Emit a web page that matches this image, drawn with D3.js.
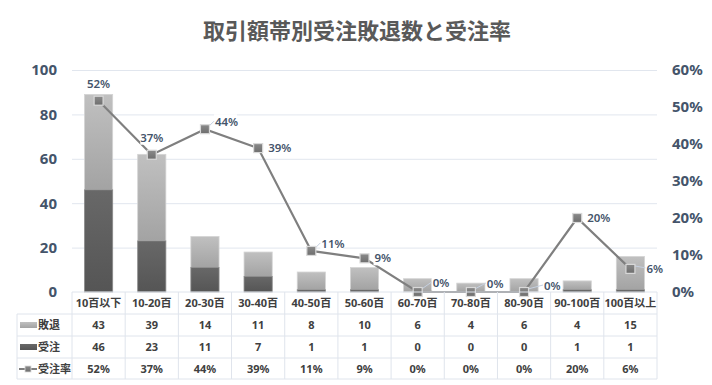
<!DOCTYPE html>
<html>
<head>
<meta charset="utf-8">
<script src="https://cdn.jsdelivr.net/npm/d3@7"></script>
<style>
  body { margin: 0; background: #fff; }
  text { font-family: "Noto Sans", "Noto Sans CJK JP", sans-serif; }
</style>
</head>
<body>
<div id="chart"></div>
<script>
// data
var categories = ["10百以下", "10-20百", "20-30百", "30-40百", "40-50百", "50-60百", "60-70百", "70-80百", "80-90百", "90-100百", "100百以上"];
var lost = [43, 39, 14, 11, 8, 10, 6, 4, 6, 4, 15];      // 敗退
var won = [46, 23, 11, 7, 1, 1, 0, 0, 0, 1, 1];          // 受注
var winRate = [0.517, 0.371, 0.44, 0.389, 0.111, 0.091, 0, 0, 0, 0.2, 0.0625]; // 受注率
var leftTicks = [0, 20, 40, 60, 80, 100];
var rightTicks = [0, 0.1, 0.2, 0.3, 0.4, 0.5, 0.6];

var svgWidth = 712;
var svgHeight = 385;

var plot = { left: 72, right: 657, top: 70, bottom: 292 };
var rowH = 22;
var legendLeft = 17;

var svg = d3.select("#chart")
  .append("svg")
  .attr("width", svgWidth)
  .attr("height", svgHeight);

var defs = svg.append("defs");
function vGrad(id, top, bottom) {
  var g = defs.append("linearGradient").attr("id", id)
    .attr("x1", 0).attr("y1", 0).attr("x2", 0).attr("y2", 1);
  g.append("stop").attr("offset", "0%").attr("stop-color", top);
  g.append("stop").attr("offset", "100%").attr("stop-color", bottom);
}
vGrad("gLost", "#c0c0c0", "#a3a3a3");
vGrad("gWon", "#686868", "#555555");
vGrad("gMark", "#8a8a8a", "#6e6e6e");

var x = d3.scaleBand()
  .domain(categories)
  .range([plot.left, plot.right])
  .paddingInner(0.47)
  .paddingOuter(0.235);
var step = x.step();

var y = d3.scaleLinear().domain([0, 100]).range([plot.bottom, plot.top]);
var y2 = d3.scaleLinear().domain([0, 0.6]).range([plot.bottom, plot.top]);

// title
svg.append("text")
  .attr("x", 357)
  .attr("y", 39)
  .attr("text-anchor", "middle")
  .attr("font-size", "22px")
  .attr("font-weight", "bold")
  .attr("fill", "#595959")
  .text("取引額帯別受注敗退数と受注率");

// gridlines
svg.append("g")
  .attr("transform", `translate(${plot.left},0)`)
  .call(d3.axisLeft(y).tickValues(leftTicks.slice(1)).tickSize(-(plot.right - plot.left)).tickFormat(""))
  .call(g => g.select(".domain").remove())
  .call(g => g.selectAll("line").attr("stroke", "#e1e6ee").attr("stroke-width", 1));

// left axis
svg.append("g")
  .attr("transform", "translate(57,0)")
  .call(d3.axisLeft(y).tickValues(leftTicks).tickSize(0).tickPadding(0))
  .call(g => g.select(".domain").remove())
  .call(g => g.selectAll("text")
    .attr("font-size", "15px")
    .attr("font-weight", "bold")
    .attr("fill", "#44546a")
    .style("font-family", "'Noto Sans', sans-serif"));

// right axis
svg.append("g")
  .attr("transform", "translate(672,0)")
  .call(d3.axisRight(y2).tickValues(rightTicks).tickSize(0).tickPadding(0).tickFormat(d3.format(".0%")))
  .call(g => g.select(".domain").remove())
  .call(g => g.selectAll("text")
    .attr("font-size", "15px")
    .attr("font-weight", "bold")
    .attr("fill", "#44546a")
    .style("font-family", "'Noto Sans', sans-serif"));

// stacked bars
var barGroup = svg.append("g");
categories.forEach(function(c, i) {
  barGroup.append("rect")
    .attr("x", x(c))
    .attr("y", y(won[i] + lost[i]))
    .attr("width", x.bandwidth())
    .attr("height", y(won[i]) - y(won[i] + lost[i]))
    .attr("fill", "url(#gLost)")
    .attr("stroke", "#d4d4d4")
    .attr("stroke-width", 0.8);
  if (won[i] > 0) {
    barGroup.append("rect")
      .attr("x", x(c))
      .attr("y", y(won[i]))
      .attr("width", x.bandwidth())
      .attr("height", y(0) - y(won[i]))
      .attr("fill", "url(#gWon)")
      .attr("stroke", "#8a8a8a")
      .attr("stroke-width", 0.8);
  }
});

// rate line
var cx = (c) => x(c) + x.bandwidth() / 2;
var line = d3.line()
  .x((d, i) => cx(categories[i]))
  .y(d => y2(d));

svg.append("path")
  .datum(winRate)
  .attr("d", line)
  .attr("fill", "none")
  .attr("stroke", "#7f7f7f")
  .attr("stroke-width", 2.2);

// data labels (first two above, rest to the right, some lifted with a leader)
var lift = { 2: 7, 4: 7, 6: 9, 7: 8, 8: 6 };
var gap = { 6: 15, 7: 16, 8: 20, 10: 16 };
var labels = svg.append("g");
winRate.forEach(function(r, i) {
  var px = cx(categories[i]);
  var py = y2(r);
  var txt = Math.round(r * 100) + "%";
  var lx, ly, anchor;
  if (i < 2) {
    lx = px; ly = py - 17; anchor = "middle";
  } else {
    lx = px + (gap[i] || 10); ly = py - (lift[i] || 0); anchor = "start";
  }
  var w = txt.length * 7 + 2;
  var bx = anchor === "middle" ? lx - w / 2 : lx - 1;
  labels.append("rect")
    .attr("x", bx).attr("y", ly - 8)
    .attr("width", w).attr("height", 15)
    .attr("fill", "#fff");
  if (lift[i] > 0 || gap[i]) {
    labels.append("line")
      .attr("x1", px + 4).attr("y1", py - 3)
      .attr("x2", lx - 1).attr("y2", ly - 1)
      .attr("stroke", "#c5d0e0")
      .attr("stroke-width", 1);
  }
  labels.append("text")
    .attr("x", lx)
    .attr("y", ly)
    .attr("dy", "0.35em")
    .attr("text-anchor", anchor)
    .attr("font-size", "11.5px")
    .attr("font-weight", 600)
    .attr("fill", "#44546a")
    .text(txt);
});

// markers
svg.append("g").selectAll("rect")
  .data(winRate)
  .enter()
  .append("rect")
  .attr("x", (d, i) => cx(categories[i]) - 4.5)
  .attr("y", d => y2(d) - 4.5)
  .attr("width", 9)
  .attr("height", 9)
  .attr("fill", "url(#gMark)")
  .attr("stroke", "#d9d9d9")
  .attr("stroke-width", 1.2);

// data table
var table = svg.append("g");
var rowTops = [plot.bottom, plot.bottom + rowH, plot.bottom + 2 * rowH, plot.bottom + 3 * rowH, plot.bottom + 4 * rowH - 1];
var border = "#dfe4ec";

table.append("line")
  .attr("x1", plot.left).attr("x2", plot.right)
  .attr("y1", rowTops[0]).attr("y2", rowTops[0])
  .attr("stroke", border);
rowTops.slice(1).forEach(function(ty) {
  table.append("line")
    .attr("x1", legendLeft).attr("x2", plot.right)
    .attr("y1", ty).attr("y2", ty)
    .attr("stroke", border);
});
table.append("line")
  .attr("x1", legendLeft).attr("x2", legendLeft)
  .attr("y1", rowTops[1]).attr("y2", rowTops[4])
  .attr("stroke", border);
d3.range(categories.length + 1).forEach(function(k) {
  var vx = plot.left + k * step;
  table.append("line")
    .attr("x1", vx).attr("x2", vx)
    .attr("y1", rowTops[0]).attr("y2", rowTops[4])
    .attr("stroke", border);
});

function cellText(tx, ty, t, anchor) {
  table.append("text")
    .attr("x", tx)
    .attr("y", ty)
    .attr("dy", "0.35em")
    .attr("text-anchor", anchor || "middle")
    .attr("font-size", "11px")
    .attr("font-weight", "bold")
    .attr("fill", "#404040")
    .text(t);
}

categories.forEach(function(c, i) {
  var tx = plot.left + (i + 0.5) * step;
  cellText(tx, rowTops[0] + rowH / 2, c);
  cellText(tx, rowTops[1] + rowH / 2, lost[i]);
  cellText(tx, rowTops[2] + rowH / 2, won[i]);
  cellText(tx, rowTops[3] + rowH / 2, Math.round(winRate[i] * 100) + "%");
});

// legend keys inside the table
var ky1 = rowTops[1] + rowH / 2;
var ky2 = rowTops[2] + rowH / 2;
var ky3 = rowTops[3] + rowH / 2;
table.append("rect").attr("x", 20).attr("y", ky1 - 3).attr("width", 17).attr("height", 6).attr("fill", "url(#gLost)");
table.append("rect").attr("x", 20).attr("y", ky2 - 3).attr("width", 17).attr("height", 6).attr("fill", "url(#gWon)");
table.append("line").attr("x1", 19).attr("x2", 37).attr("y1", ky3).attr("y2", ky3).attr("stroke", "#7f7f7f").attr("stroke-width", 2);
table.append("rect").attr("x", 25).attr("y", ky3 - 3).attr("width", 6).attr("height", 6).attr("fill", "url(#gMark)").attr("stroke", "#d9d9d9").attr("stroke-width", 0.8);
cellText(38, ky1, "敗退", "start");
cellText(38, ky2, "受注", "start");
cellText(38, ky3, "受注率", "start");
</script>
</body>
</html>
